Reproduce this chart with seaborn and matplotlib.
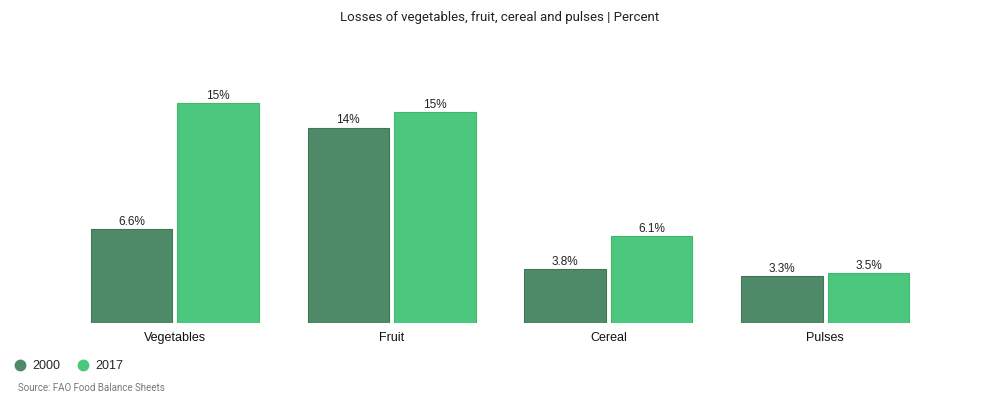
import pandas as pd
import matplotlib.pyplot as plt
import seaborn as sns
from matplotlib.lines import Line2D

# data
categories = ['Vegetables', 'Fruit', 'Cereal', 'Pulses']
years = ['2000', '2017']
loss_2000 = [6.6, 13.7, 3.8, 3.3]
loss_2017 = [15.4, 14.8, 6.1, 3.5]

colors = {'2000': '#4e8a68', '2017': '#4bc87e'}
edges = {'2000': '#3f7657', '2017': '#43b771'}

df = pd.DataFrame({
    'Category': categories * 2,
    'Year': ['2000'] * len(categories) + ['2017'] * len(categories),
    'Loss': loss_2000 + loss_2017,
})

sns.set_style('white')

fig = plt.figure(figsize=(10, 3.99), dpi=100)
ax = fig.add_axes([0.0665, 0.19, 0.867, 0.59])

sns.barplot(data=df, x='Category', y='Loss', hue='Year', order=categories,
            hue_order=years, palette=colors, width=0.8, gap=0.06,
            saturation=1, legend=False, ax=ax)

# darker outline per series
for container, yr in zip(ax.containers, years):
    for bar in container:
        bar.set_edgecolor(edges[yr])
        bar.set_linewidth(0.8)

# value labels
def fmt(v):
    return f'{v:.0f}%' if v >= 10 else f'{v:.1f}%'

for container in ax.containers:
    ax.bar_label(container, labels=[fmt(v) for v in container.datavalues],
                 padding=1, fontsize=8.5, family='Liberation Sans', color='#222222')

ax.set_ylim(0, 16.5)
ax.set_xlim(-0.5, len(categories) - 0.5)
ax.set_yticks([])
ax.set_xlabel('')
ax.set_ylabel('')
ax.tick_params(axis='x', length=0, pad=6)
for lbl in ax.get_xticklabels():
    lbl.set_fontsize(9)
    lbl.set_family('Liberation Sans')
    lbl.set_color('#111111')
sns.despine(ax=ax, left=True, bottom=True)

fig.text(0.5, 0.955, 'Losses of vegetables, fruit, cereal and pulses | Percent',
         ha='center', va='center', fontsize=9.5, family='Roboto', color='#222222')

handles = [Line2D([], [], marker='o', linestyle='', markersize=7.5,
                  markerfacecolor=colors[y], markeredgecolor=colors[y], label=y)
           for y in years]
fig.legend(handles=handles, loc='center left', bbox_to_anchor=(-0.001, 0.083),
           ncol=2, frameon=False, handletextpad=0.3, handlelength=1.5,
           columnspacing=1.0, prop={'family': 'Liberation Sans', 'size': 9})

fig.text(0.018, 0.028, 'Source: FAO Food Balance Sheets', ha='left', va='center',
         fontsize=7, family='Roboto', color='#777777')

plt.savefig('out.png', dpi=100)
